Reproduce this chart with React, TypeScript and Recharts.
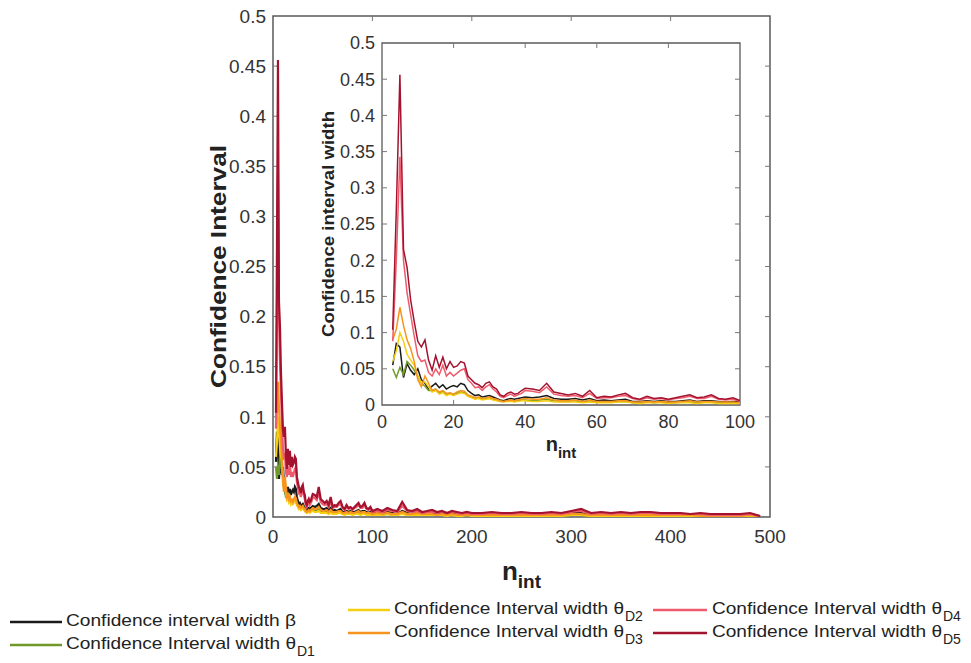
import React from 'react';
import { LineChart, Line, XAxis, YAxis, ReferenceArea, ReferenceLine, Label } from 'recharts';

// x positions (n_int)
const nValues = [
  3, 4, 5, 6, 7, 8, 9, 10, 11, 12, 13, 14, 15, 16, 17, 18, 19, 20, 21, 22,
  23, 24, 25, 26, 27, 28, 29, 30, 31, 32, 33, 34, 35, 36, 37, 38, 39, 40,
  42, 44, 46, 48, 50, 52, 54, 56, 58, 60, 62, 64, 66, 68, 70, 72, 74, 76, 78, 80,
  82, 84, 86, 88, 90, 92, 94, 96, 98, 100,
  105, 110, 115, 120, 125, 130, 135, 140, 145, 150, 155, 160, 165, 170, 175, 180, 185, 190, 195, 200,
  210, 220, 230, 240, 250, 260, 270, 280, 290, 300, 310, 320, 330, 340, 350, 360, 370, 380, 390, 400,
  410, 420, 430, 440, 450, 460, 470, 480, 490,
];

const widthBeta = [
  0.055, 0.085, 0.08, 0.038, 0.057, 0.048, 0.042, 0.05, 0.035, 0.03,
  0.022, 0.026, 0.03, 0.024, 0.028, 0.022, 0.025, 0.027, 0.025, 0.03,
  0.028, 0.02, 0.016, 0.013, 0.014, 0.011, 0.012, 0.013, 0.011, 0.009,
  0.007, 0.006, 0.008, 0.009, 0.008, 0.009, 0.01, 0.011,
  0.01, 0.011, 0.013, 0.009, 0.008, 0.008, 0.009, 0.007, 0.009, 0.006,
  0.007, 0.006, 0.007, 0.008, 0.005, 0.005, 0.006, 0.005, 0.006, 0.005,
  0.005, 0.006, 0.007, 0.005, 0.006, 0.006, 0.005, 0.004, 0.005, 0.004,
  0.004, 0.004, 0.005, 0.004, 0.003, 0.006, 0.004, 0.003, 0.004, 0.003,
  0.003, 0.004, 0.003, 0.003, 0.003, 0.003, 0.003, 0.002, 0.003, 0.002,
  0.002, 0.003, 0.002, 0.002, 0.003, 0.002, 0.002, 0.003, 0.002, 0.005,
  0.004, 0.002, 0.003, 0.002, 0.003, 0.002, 0.003, 0.003, 0.002, 0.002,
  0.002, 0.002, 0.002, 0.002, 0.002, 0.002, 0.002, 0.002, 0.0005,
];

const widthD1 = [
  0.05, 0.038, 0.052, 0.042, 0.06, 0.055, 0.048, 0.04, 0.03, 0.026,
  0.02, 0.02, 0.022, 0.017, 0.019, 0.015, 0.016, 0.015, 0.016, 0.018,
  0.017, 0.013, 0.011, 0.009, 0.01, 0.008, 0.009, 0.009, 0.008, 0.007,
  0.005, 0.005, 0.006, 0.006, 0.005, 0.006, 0.007, 0.007,
  0.006, 0.007, 0.008, 0.006, 0.005, 0.005, 0.006, 0.004, 0.006, 0.004,
  0.004, 0.004, 0.005, 0.005, 0.003, 0.003, 0.004, 0.003, 0.004, 0.003,
  0.003, 0.004, 0.004, 0.003, 0.004, 0.004, 0.003, 0.003, 0.003, 0.003,
  0.003, 0.002, 0.003, 0.002, 0.002, 0.004, 0.002, 0.002, 0.003, 0.002,
  0.002, 0.002, 0.002, 0.002, 0.002, 0.002, 0.002, 0.001, 0.002, 0.001,
  0.001, 0.002, 0.001, 0.001, 0.002, 0.001, 0.001, 0.002, 0.001, 0.002,
  0.002, 0.001, 0.002, 0.001, 0.002, 0.001, 0.002, 0.002, 0.001, 0.001,
  0.001, 0.001, 0.001, 0.001, 0.001, 0.001, 0.001, 0.001, 0.0005,
];

const widthD2 = [
  0.06, 0.075, 0.1, 0.088, 0.07, 0.062, 0.055, 0.04, 0.03, 0.032,
  0.025, 0.018, 0.02, 0.015, 0.017, 0.013, 0.015, 0.013, 0.015, 0.017,
  0.016, 0.012, 0.01, 0.008, 0.009, 0.007, 0.008, 0.009, 0.007, 0.006,
  0.005, 0.004, 0.005, 0.005, 0.004, 0.005, 0.006, 0.006,
  0.005, 0.005, 0.006, 0.004, 0.004, 0.004, 0.004, 0.003, 0.004, 0.003,
  0.003, 0.003, 0.004, 0.004, 0.003, 0.002, 0.003, 0.003, 0.003, 0.002,
  0.003, 0.003, 0.003, 0.002, 0.003, 0.003, 0.002, 0.002, 0.002, 0.002,
  0.002, 0.002, 0.003, 0.002, 0.002, 0.003, 0.002, 0.002, 0.002, 0.002,
  0.002, 0.002, 0.002, 0.002, 0.001, 0.002, 0.001, 0.001, 0.002, 0.001,
  0.001, 0.001, 0.001, 0.001, 0.001, 0.001, 0.001, 0.001, 0.001, 0.002,
  0.002, 0.001, 0.001, 0.001, 0.001, 0.001, 0.001, 0.001, 0.001, 0.001,
  0.001, 0.001, 0.001, 0.001, 0.001, 0.001, 0.001, 0.001, 0.0005,
];

const widthD3 = [
  0.09, 0.105, 0.135, 0.11, 0.09, 0.078, 0.06, 0.035, 0.025, 0.04,
  0.03, 0.02, 0.022, 0.018, 0.02, 0.016, 0.017, 0.015, 0.018, 0.02,
  0.019, 0.014, 0.012, 0.01, 0.011, 0.009, 0.01, 0.011, 0.009, 0.008,
  0.006, 0.005, 0.006, 0.007, 0.006, 0.007, 0.008, 0.009,
  0.008, 0.008, 0.01, 0.007, 0.006, 0.006, 0.007, 0.005, 0.007, 0.005,
  0.005, 0.005, 0.006, 0.006, 0.004, 0.004, 0.005, 0.004, 0.005, 0.004,
  0.004, 0.005, 0.006, 0.004, 0.005, 0.005, 0.004, 0.004, 0.004, 0.003,
  0.004, 0.003, 0.004, 0.003, 0.003, 0.005, 0.003, 0.003, 0.004, 0.003,
  0.003, 0.003, 0.002, 0.003, 0.002, 0.003, 0.002, 0.002, 0.002, 0.002,
  0.002, 0.002, 0.002, 0.002, 0.002, 0.002, 0.002, 0.002, 0.002, 0.003,
  0.003, 0.002, 0.002, 0.002, 0.002, 0.002, 0.002, 0.002, 0.002, 0.002,
  0.002, 0.002, 0.001, 0.001, 0.001, 0.001, 0.001, 0.002, 0.0005,
];

const widthD4 = [
  0.088, 0.2, 0.343, 0.2, 0.155, 0.125, 0.095, 0.068, 0.06, 0.062,
  0.045, 0.04, 0.05, 0.042, 0.055, 0.04, 0.045, 0.04, 0.044, 0.048,
  0.05, 0.035, 0.03, 0.024, 0.025, 0.02, 0.025, 0.028, 0.022, 0.018,
  0.012, 0.01, 0.013, 0.015, 0.012, 0.014, 0.016, 0.02,
  0.019, 0.017, 0.025, 0.015, 0.013, 0.012, 0.013, 0.01, 0.016, 0.009,
  0.01, 0.01, 0.012, 0.013, 0.009, 0.007, 0.01, 0.008, 0.009, 0.007,
  0.009, 0.01, 0.012, 0.009, 0.009, 0.012, 0.008, 0.007, 0.008, 0.005,
  0.006, 0.005, 0.007, 0.006, 0.005, 0.011, 0.006, 0.005, 0.006, 0.004,
  0.005, 0.005, 0.004, 0.005, 0.004, 0.005, 0.004, 0.003, 0.004, 0.003,
  0.003, 0.004, 0.003, 0.003, 0.004, 0.003, 0.003, 0.004, 0.003, 0.005,
  0.006, 0.003, 0.004, 0.003, 0.004, 0.003, 0.004, 0.004, 0.003, 0.003,
  0.003, 0.003, 0.003, 0.002, 0.002, 0.002, 0.002, 0.003, 0.001,
];

const widthD5 = [
  0.104, 0.27, 0.456, 0.215, 0.19, 0.145, 0.115, 0.088, 0.08, 0.09,
  0.062, 0.048, 0.068, 0.052, 0.066, 0.05, 0.06, 0.052, 0.054, 0.06,
  0.058, 0.04, 0.035, 0.03, 0.028, 0.024, 0.03, 0.032, 0.025, 0.022,
  0.014, 0.012, 0.016, 0.018, 0.015, 0.016, 0.02, 0.023,
  0.022, 0.02, 0.03, 0.018, 0.016, 0.014, 0.016, 0.012, 0.02, 0.01,
  0.012, 0.011, 0.014, 0.016, 0.01, 0.008, 0.012, 0.009, 0.01, 0.008,
  0.01, 0.012, 0.014, 0.01, 0.011, 0.014, 0.009, 0.008, 0.01, 0.006,
  0.008, 0.006, 0.009, 0.007, 0.006, 0.015, 0.007, 0.006, 0.008, 0.005,
  0.006, 0.007, 0.005, 0.006, 0.004, 0.006, 0.005, 0.004, 0.005, 0.004,
  0.004, 0.005, 0.004, 0.004, 0.005, 0.004, 0.004, 0.005, 0.004, 0.006,
  0.008, 0.004, 0.005, 0.004, 0.005, 0.004, 0.005, 0.005, 0.004, 0.004,
  0.004, 0.003, 0.004, 0.003, 0.003, 0.003, 0.003, 0.004, 0.001,
];

const mainXTicks = [0, 100, 200, 300, 400, 500];
const insetXTicks = [0, 20, 40, 60, 80, 100];
const yTicks = [0, 0.05, 0.1, 0.15, 0.2, 0.25, 0.3, 0.35, 0.4, 0.45, 0.5];

const seriesKeys = ['beta', 'd1', 'd2', 'd3', 'd4', 'd5'];
const seriesColors = ['#1a1a1a', '#6f9a2a', '#f5cf12', '#f7941d', '#ef5b6c', '#a3122e'];
const seriesLabels = [
  'Confidence interval width β',
  'Confidence Interval width θ',
  'Confidence Interval width θ',
  'Confidence Interval width θ',
  'Confidence Interval width θ',
  'Confidence Interval width θ',
];
const seriesSubs = ['', 'D1', 'D2', 'D3', 'D4', 'D5'];

const seriesValues = [widthBeta, widthD1, widthD2, widthD3, widthD4, widthD5];

const rows = nValues.map((n, i) => {
  const r: Record<string, number> = { n };
  seriesKeys.forEach((k, j) => {
    r[k] = seriesValues[j][i];
  });
  return r;
});
const insetRows = rows.filter((r) => r.n <= 100);

const FONT = '"Liberation Sans", Arial, Helvetica, sans-serif';
const TICK_COLOR = '#333';
const BOX_COLOR = '#5a5a5a';
const TICKMARK_COLOR = '#777';

// legend layout (positions only)
const legendLayout = [
  { lx1: 10, lx2: 62, tx: 66, cy: 620 },
  { lx1: 10, lx2: 62, tx: 66, cy: 643 },
  { lx1: 348, lx2: 390, tx: 394, cy: 608 },
  { lx1: 348, lx2: 390, tx: 394, cy: 631 },
  { lx1: 653, lx2: 707, tx: 712, cy: 608 },
  { lx1: 653, lx2: 707, tx: 712, cy: 631 },
];

const yFmt = (v: number) => String(v);

function MainYLabel(props: any) {
  const vb = props.viewBox || { x: 0, y: 0, width: 0, height: 0 };
  const cx = vb.x + 5;
  const cy = vb.y + vb.height / 2;
  return (
    <text x={cx} y={cy} transform={`rotate(-90, ${cx}, ${cy})`} textAnchor="middle" dominantBaseline="central"
      fontFamily={FONT} fontWeight="bold" fontSize={22} fill="#222" textLength={243} lengthAdjust="spacingAndGlyphs">
      Confidence Interval
    </text>
  );
}

function MainXLabel(props: any) {
  const vb = props.viewBox || { x: 0, y: 0, width: 0, height: 0 };
  const cx = vb.x + vb.width / 2;
  const by = vb.y + 63;
  return (
    <text x={cx} y={by} textAnchor="middle" fontFamily={FONT} fontWeight="bold" fontSize={26} fill="#222">
      n<tspan fontSize={19} dy={8}>int</tspan>
    </text>
  );
}

function InsetYLabel(props: any) {
  const vb = props.viewBox || { x: 0, y: 0, width: 0, height: 0 };
  const cx = vb.x - 4;
  const cy = vb.y + vb.height / 2;
  return (
    <text x={cx} y={cy} transform={`rotate(-90, ${cx}, ${cy})`} textAnchor="middle" dominantBaseline="central"
      fontFamily={FONT} fontWeight="bold" fontSize={17} fill="#222" textLength={226} lengthAdjust="spacingAndGlyphs">
      Confidence interval width
    </text>
  );
}

function InsetXLabel(props: any) {
  const vb = props.viewBox || { x: 0, y: 0, width: 0, height: 0 };
  const cx = vb.x + vb.width / 2;
  const by = vb.y + 46;
  return (
    <text x={cx} y={by} textAnchor="middle" fontFamily={FONT} fontWeight="bold" fontSize={20} fill="#222">
      n<tspan fontSize={15} dy={7}>int</tspan>
    </text>
  );
}

function LegendOverlay() {
  return (
    <svg width={971} height={663} style={{ position: 'absolute', left: 0, top: 0, pointerEvents: 'none' }}>
      {seriesKeys.map((k, i) => {
        const L = legendLayout[i];
        const tl = 230;
        return (
          <g key={k}>
            <line x1={L.lx1} x2={L.lx2} y1={L.cy + 2} y2={L.cy + 2} stroke={seriesColors[i]} strokeWidth={2.5} />
            <text x={L.tx} y={L.cy + 6} fontFamily={FONT} fontSize={16.5} fill="#222"
              textLength={tl} lengthAdjust="spacingAndGlyphs">
              {seriesLabels[i]}
            </text>
            {seriesSubs[i] ? (
              <text x={L.tx + tl + 1} y={L.cy + 13} fontFamily={FONT} fontSize={14} fill="#222">
                {seriesSubs[i]}
              </text>
            ) : null}
          </g>
        );
      })}
    </svg>
  );
}

// inward tick marks drawn through the chart scales (lengths in data units)
function tickMarks(xTicks: number[], xMax: number, xLen: number, yLen: number, prefix: string) {
  const out: React.ReactNode[] = [];
  yTicks.forEach((v, i) => {
    if (v === 0 || v === 0.5) return;
    out.push(<ReferenceLine key={`${prefix}yl${i}`} segment={[{ x: 0, y: v }, { x: xLen, y: v }]} stroke={TICKMARK_COLOR} strokeWidth={1} />);
    out.push(<ReferenceLine key={`${prefix}yr${i}`} segment={[{ x: xMax - xLen, y: v }, { x: xMax, y: v }]} stroke={TICKMARK_COLOR} strokeWidth={1} />);
  });
  xTicks.forEach((v, i) => {
    if (v === 0 || v === xMax) return;
    out.push(<ReferenceLine key={`${prefix}xb${i}`} segment={[{ x: v, y: 0 }, { x: v, y: yLen }]} stroke={TICKMARK_COLOR} strokeWidth={1} />);
    out.push(<ReferenceLine key={`${prefix}xt${i}`} segment={[{ x: v, y: 0.5 - yLen }, { x: v, y: 0.5 }]} stroke={TICKMARK_COLOR} strokeWidth={1} />);
  });
  return out;
}

export default function App() {
  return (
    <div style={{ position: 'absolute', left: 0, top: 0, width: 971, height: 663, background: '#fff' }}>
      <div style={{ position: 'absolute', left: 0, top: 0 }}>
        <LineChart width={971} height={663} data={rows} margin={{ top: 16, right: 201, bottom: 106, left: 213 }}>
          <XAxis dataKey="n" type="number" domain={[0, 500]} ticks={mainXTicks} allowDataOverflow
            height={40} axisLine={false} tickLine={false} tickSize={6} tickMargin={7}
            tick={{ fontFamily: FONT, fontSize: 19, fill: TICK_COLOR }}>
            <Label content={<MainXLabel />} />
          </XAxis>
          <YAxis type="number" domain={[0, 0.5]} ticks={yTicks} allowDataOverflow width={60}
            axisLine={false} tickLine={false} tickSize={4} tickMargin={3} tickFormatter={yFmt}
            tick={{ fontFamily: FONT, fontSize: 19, fill: TICK_COLOR }}>
            <Label content={<MainYLabel />} />
          </YAxis>
          {tickMarks(mainXTicks, 500, 5, 0.005, 'm')}
          <ReferenceArea x1={0} x2={500} y1={0} y2={0.5} fill="none" stroke={BOX_COLOR} strokeWidth={1.5} fillOpacity={0} />
          {seriesKeys.map((k, i) => (
            <Line key={k} type="linear" dataKey={k} stroke={seriesColors[i]} strokeWidth={2.2}
              dot={false} isAnimationActive={false} />
          ))}
        </LineChart>
      </div>
      <div style={{ position: 'absolute', left: 300, top: 30 }}>
        <LineChart width={460} height={440} data={insetRows} margin={{ top: 13, right: 20, bottom: 35, left: 32 }}>
          <XAxis dataKey="n" type="number" domain={[0, 100]} ticks={insetXTicks} allowDataOverflow
            height={30} axisLine={false} tickLine={false} tickSize={6} tickMargin={4}
            tick={{ fontFamily: FONT, fontSize: 18, fill: TICK_COLOR }}>
            <Label content={<InsetXLabel />} />
          </XAxis>
          <YAxis type="number" domain={[0, 0.5]} ticks={yTicks} allowDataOverflow width={50}
            axisLine={false} tickLine={false} tickSize={4} tickMargin={3} tickFormatter={yFmt}
            tick={{ fontFamily: FONT, fontSize: 18, fill: TICK_COLOR }}>
            <Label content={<InsetYLabel />} />
          </YAxis>
          {tickMarks(insetXTicks, 100, 1.4, 0.007, 'i')}
          <ReferenceArea x1={0} x2={100} y1={0} y2={0.5} fill="none" stroke={BOX_COLOR} strokeWidth={1.3} fillOpacity={0} />
          {seriesKeys.map((k, i) => (
            <Line key={k} type="linear" dataKey={k} stroke={seriesColors[i]} strokeWidth={1.5}
              dot={false} isAnimationActive={false} />
          ))}
        </LineChart>
      </div>
      <LegendOverlay />
    </div>
  );
}
